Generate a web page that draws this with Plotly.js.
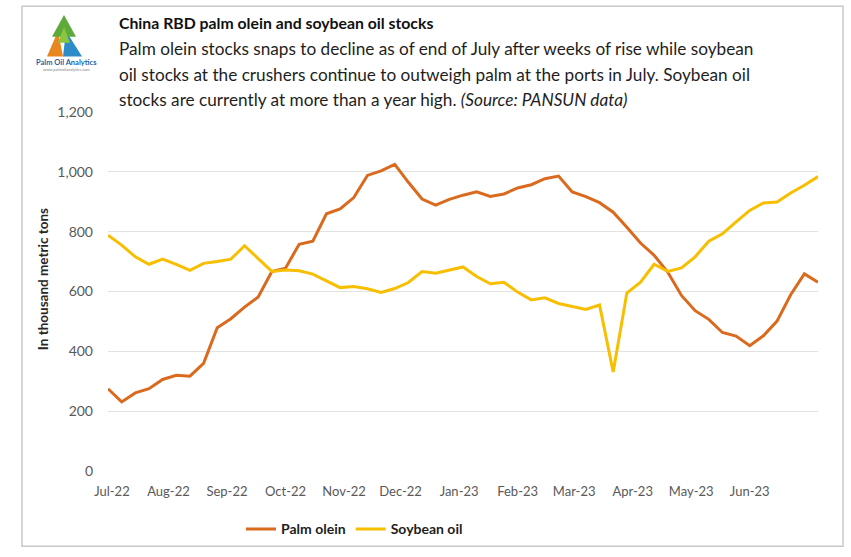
<!DOCTYPE html>
<html>
<head>
<meta charset="utf-8">
<script src="https://cdn.plot.ly/plotly-3.0.1.min.js"></script>
<style>
  html, body { margin: 0; padding: 0; background: #ffffff; }
  #chart { width: 851px; height: 557px; }
</style>
</head>
<body>
<div id="chart"></div>
<script>
// ---- Data (weekly stocks, thousand metric tons) ----
const weekDates = [
  '2022-07-01','2022-07-08','2022-07-15','2022-07-22','2022-07-29',
  '2022-08-05','2022-08-12','2022-08-19','2022-08-26',
  '2022-09-02','2022-09-09','2022-09-16','2022-09-23','2022-09-30',
  '2022-10-07','2022-10-14','2022-10-21','2022-10-28',
  '2022-11-04','2022-11-11','2022-11-18','2022-11-25',
  '2022-12-02','2022-12-09','2022-12-16','2022-12-23','2022-12-30',
  '2023-01-06','2023-01-13','2023-01-20','2023-01-27',
  '2023-02-03','2023-02-10','2023-02-17','2023-02-24',
  '2023-03-03','2023-03-10','2023-03-17','2023-03-24','2023-03-31',
  '2023-04-07','2023-04-14','2023-04-21','2023-04-28',
  '2023-05-05','2023-05-12','2023-05-19','2023-05-26',
  '2023-06-02','2023-06-09','2023-06-16','2023-06-23','2023-06-30'
];

const palmOlein = [
  275, 231, 261, 275, 306, 320, 317, 360, 479, 509,
  548, 582, 667, 678, 758, 768, 860, 876, 914, 988,
  1003, 1025, 965, 909, 889, 908, 922, 933, 918, 926,
  946, 957, 977, 986, 933, 917, 897, 865, 815, 762,
  721, 664, 587, 536, 507, 463, 451, 419, 452, 501,
  589, 659, 631
];

const soybeanOil = [
  788, 755, 716, 691, 708, 691, 671, 694, 700, 708,
  753, 711, 667, 672, 669, 658, 636, 613, 617, 609,
  597, 610, 630, 667, 661, 672, 682, 650, 626, 631,
  598, 572, 579, 560, 549, 540, 555, 331, 595, 631,
  691, 667, 679, 716, 768, 793, 833, 871, 896, 899,
  929, 955, 984
];

const seriesNames = ['Palm olein', 'Soybean oil'];

const tickDates = ['2022-07-03','2022-08-01','2022-08-31','2022-09-30','2022-10-30','2022-11-28',
                   '2022-12-28','2023-01-27','2023-02-25','2023-03-27','2023-04-26','2023-05-26'];
const tickLabels = ['Jul-22','Aug-22','Sep-22','Oct-22','Nov-22','Dec-22',
                    'Jan-23','Feb-23','Mar-23','Apr-23','May-23','Jun-23'];

const titleText = 'China RBD palm olein and soybean oil stocks';
const subtitleLines = [
  'Palm olein stocks snaps to decline as of end of July after weeks of rise while soybean',
  'oil stocks at the crushers continue to outweigh palm at the ports in July. Soybean oil',
  'stocks are currently at more than a year high. <i>(Source: PANSUN data)</i>'
];
const yTitle = 'In thousand metric tons';
const logoText = 'Palm Oil Analytics';

// ---- Layout geometry helpers (pixel -> paper) ----
const W = 851, H = 557;
const M = { l: 108, r: 33, t: 112, b: 82 };
const PW = W - M.l - M.r, PH = H - M.t - M.b;
const px = v => (v - M.l) / PW;
const py = v => (H - M.b - v) / PH;

const FONT = 'Lato, "Open Sans", sans-serif';

const traces = [
  {
    x: weekDates, y: palmOlein, name: '<b>' + seriesNames[0] + '</b>',
    type: 'scatter', mode: 'lines',
    line: { color: '#DA6A1E', width: 3 }
  },
  {
    x: weekDates, y: soybeanOil, name: '<b>' + seriesNames[1] + '</b>',
    type: 'scatter', mode: 'lines',
    line: { color: '#F8BE00', width: 3 }
  }
];

function pathRel(points) {
  return 'M ' + points.map(p => px(p[0]) + ',' + py(p[1])).join(' L ') + ' Z';
}

const shapes = [
  // outer frame
  { type: 'rect', xref: 'paper', yref: 'paper', x0: px(22), x1: px(843), y0: py(551), y1: py(5),
    line: { color: '#c8c8c8', width: 1.5 }, fillcolor: 'rgba(0,0,0,0)', layer: 'below' },
  // logo pieces
  { type: 'path', xref: 'paper', yref: 'paper', path: pathRel([[47,56],[58,30],[63,56]]),
    fillcolor: '#E8861F', line: { width: 0 } },
  { type: 'path', xref: 'paper', yref: 'paper', path: pathRel([[63,56],[66,30],[82,56]]),
    fillcolor: '#2E8BC9', line: { width: 0 } },
  { type: 'path', xref: 'paper', yref: 'paper', path: pathRel([[52,36],[64,14],[76,36]]),
    fillcolor: '#5DAA3A', line: { width: 0 } },
  { type: 'path', xref: 'paper', yref: 'paper', path: pathRel([[58,42],[64,26],[70,42]]),
    fillcolor: '#8CC63F', line: { width: 0 } }
];

const annotations = [
  { xref: 'paper', yref: 'paper', x: px(117), y: py(22), xanchor: 'left', yanchor: 'middle',
    text: '<b>' + titleText + '</b>', showarrow: false,
    font: { family: FONT, size: 15.8, color: '#111111' } },
  ...subtitleLines.map((t, i) => ({
    xref: 'paper', yref: 'paper', x: px(117), y: py([48, 74, 99][i]), xanchor: 'left', yanchor: 'middle',
    text: t, showarrow: false, font: { family: FONT, size: 17.2, color: '#1e1e1e' } })),
  { xref: 'paper', yref: 'paper', x: px(43), y: py(281), xanchor: 'center', yanchor: 'middle',
    text: '<b>' + yTitle + '</b>', textangle: -90, showarrow: false,
    font: { family: FONT, size: 13.5, color: '#262626' } },
  { xref: 'paper', yref: 'paper', x: px(66), y: py(62), xanchor: 'center', yanchor: 'middle',
    text: '<b>' + logoText + '</b>', showarrow: false,
    font: { family: FONT, size: 7.5, color: '#1F5FA8' } },
  { xref: 'paper', yref: 'paper', x: px(66), y: py(69), xanchor: 'center', yanchor: 'middle',
    text: 'www.palmoilanalytics.com', showarrow: false,
    font: { family: FONT, size: 4, color: '#888888' } }
];

const layout = {
  width: W, height: H,
  margin: M,
  paper_bgcolor: '#ffffff', plot_bgcolor: '#ffffff',
  showlegend: true,
  legend: {
    orientation: 'h', x: px(241), y: py(534), xanchor: 'left', yanchor: 'middle',
    font: { family: FONT, size: 14, color: '#1e1e1e' },
    itemwidth: 30, traceorder: 'normal'
  },
  xaxis: {
    type: 'date',
    range: [weekDates[0], weekDates[weekDates.length - 1]],
    tickmode: 'array', tickvals: tickDates, ticktext: tickLabels,
    showgrid: false, zeroline: false, showline: false, ticks: '',
    ticklabelstandoff: 11,
    tickfont: { family: FONT, size: 13, color: '#595959' }
  },
  yaxis: {
    range: [0, 1200], dtick: 200, tickformat: ',d',
    showgrid: true, gridcolor: '#e2e2e2', gridwidth: 1,
    zeroline: false, showline: false, ticks: '',
    ticklabelstandoff: 14,
    tickfont: { family: FONT, size: 14, color: '#595959' }
  },
  shapes: shapes,
  annotations: annotations,
  hovermode: false
};

Plotly.newPlot('chart', traces, layout, { displayModeBar: false, staticPlot: true });
</script>
</body>
</html>
